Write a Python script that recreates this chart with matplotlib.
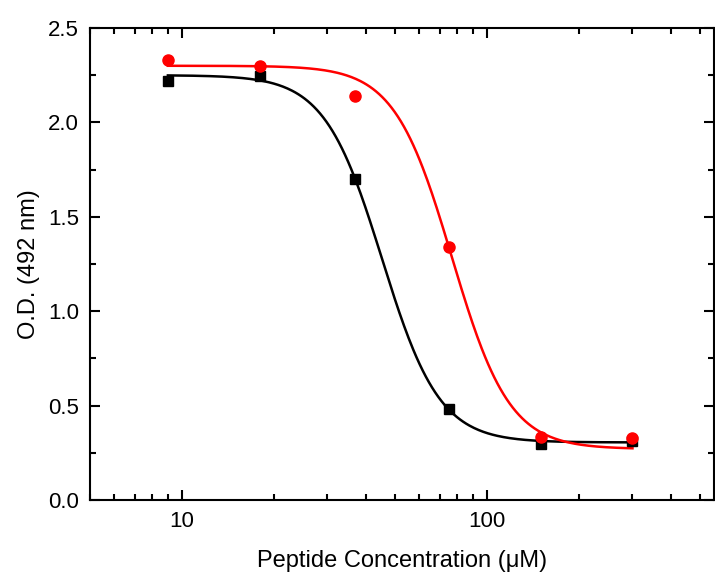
import matplotlib
matplotlib.use('Agg')
import matplotlib.pyplot as plt
import numpy as np
from matplotlib.ticker import LogLocator, MultipleLocator, FixedLocator, FixedFormatter

plt.rcParams['font.family'] = ['Liberation Sans', 'DejaVu Sans']

# ------------------------------------------------
# Data
# ------------------------------------------------
conc = [9, 18, 37, 75, 150, 300]                  # peptide concentration (uM)
od_black = [2.22, 2.245, 1.70, 0.48, 0.295, 0.31]  # squares
od_red = [2.33, 2.30, 2.14, 1.34, 0.335, 0.33]     # circles

# logistic fit parameters (top, bottom, x0, p), estimated from the drawn curves
fit_black = [2.25, 0.305, 45.3, 4.6]
fit_red = [2.30, 0.27, 76.8, 4.6]

x_ticks = [10, 100]
x_ticklabels = ['10', '100']


def logistic(x, top, bottom, x0, p):
    return bottom + (top - bottom) / (1 + (x / x0) ** p)


fig = plt.figure(figsize=(7.15, 5.72), dpi=100)
ax = fig.add_axes([90 / 715, 72 / 572, 624 / 715, 472 / 572])

xs = np.logspace(np.log10(conc[0]), np.log10(conc[-1]), 300)
ax.plot(xs, logistic(xs, *fit_black), color='black', lw=1.8, zorder=2)
ax.plot(xs, logistic(xs, *fit_red), color='red', lw=1.8, zorder=2)
ax.plot(conc, od_black, 's', color='black', ms=7, zorder=3)
ax.plot(conc, od_red, 'o', color='red', ms=8, zorder=3)

ax.set_xscale('log')
ax.set_xlim(5, 555)
ax.set_ylim(0, 2.5)
ax.xaxis.set_major_locator(FixedLocator(x_ticks))
ax.xaxis.set_major_formatter(FixedFormatter(x_ticklabels))
ax.xaxis.set_minor_locator(LogLocator(base=10, subs=np.arange(2, 10)))
ax.xaxis.set_minor_formatter(plt.NullFormatter())
ax.yaxis.set_major_locator(MultipleLocator(0.5))
ax.yaxis.set_minor_locator(MultipleLocator(0.25))
ax.yaxis.set_major_formatter(plt.FuncFormatter(lambda v, _: f'{v:.1f}'))

for s in ax.spines.values():
    s.set_linewidth(1.5)
ax.tick_params(which='both', direction='in', top=True, right=True, width=1.5, labelsize=16)
ax.tick_params(which='major', length=7, pad=8)
ax.tick_params(which='minor', length=4)

ax.set_xlabel('Peptide Concentration (μM)', fontsize=17, labelpad=13)
ax.set_ylabel('O.D. (492 nm)', fontsize=17, labelpad=6)

fig.savefig('out.png', dpi=100)
